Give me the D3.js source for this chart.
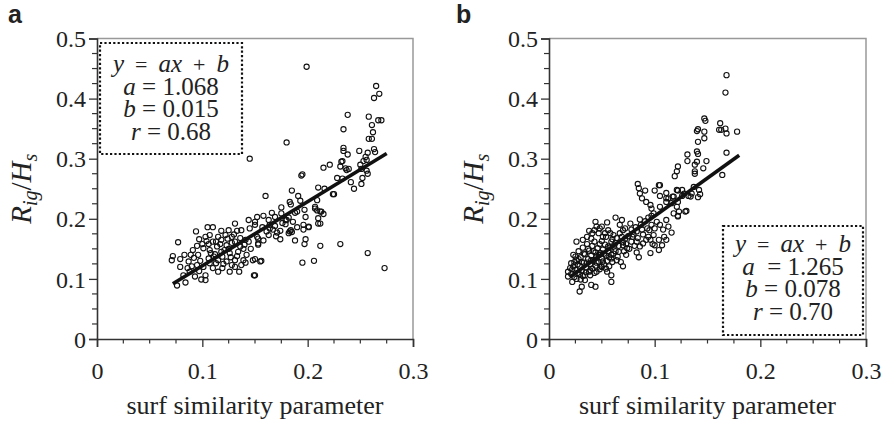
<!DOCTYPE html>
<html>
<head>
<meta charset="utf-8">
<script src="https://cdn.jsdelivr.net/npm/d3@7"></script>
<style>
  body { margin: 0; background: #fff; }
  svg text { fill: #222; }
</style>
</head>
<body>
<svg id="chart" width="885" height="426" font-family="Liberation Serif, Times New Roman, serif"></svg>
<script>
// axis ticks
const xTicks = [0, 0.1, 0.2, 0.3];
const yTicks = [0, 0.1, 0.2, 0.3, 0.4, 0.5];
const xTickLabels = ["0", "0.1", "0.2", "0.3"];
const yTickLabels = ["0", "0.1", "0.2", "0.3", "0.4", "0.5"];

// panel a : surf similarity parameter vs Rig/Hs
const ptsA = [
  [0.199,0.453],[0.145,0.300],[0.180,0.327],[0.265,0.421],[0.268,0.408],[0.263,0.401],[0.238,0.373],[0.258,0.370],
  [0.267,0.364],[0.270,0.364],[0.261,0.356],[0.234,0.349],[0.262,0.344],[0.261,0.333],[0.258,0.333],[0.234,0.318],
  [0.234,0.313],[0.263,0.316],[0.264,0.311],[0.249,0.313],[0.238,0.307],[0.257,0.310],[0.233,0.296],[0.255,0.303],
  [0.253,0.296],[0.231,0.287],[0.236,0.284],[0.239,0.283],[0.250,0.290],[0.256,0.298],[0.251,0.283],[0.256,0.280],
  [0.257,0.275],[0.228,0.268],[0.233,0.267],[0.241,0.261],[0.252,0.268],[0.251,0.258],[0.244,0.250],[0.225,0.241],
  [0.231,0.158],[0.257,0.143],[0.273,0.118],[0.221,0.290],[0.215,0.285],[0.195,0.274],[0.194,0.272],[0.237,0.281],
  [0.232,0.295],
  [0.160,0.238],[0.185,0.247],[0.210,0.252],[0.216,0.250],[0.224,0.241],[0.191,0.238],[0.193,0.230],[0.183,0.228],
  [0.184,0.224],[0.209,0.231],[0.175,0.219],[0.166,0.210],[0.175,0.209],[0.188,0.210],[0.197,0.215],[0.207,0.217],
  [0.209,0.214],[0.213,0.212],[0.215,0.208],[0.158,0.205],[0.152,0.203],[0.169,0.203],[0.182,0.202],[0.198,0.203],
  [0.210,0.201],[0.150,0.195],[0.163,0.198],[0.179,0.198],[0.186,0.195],[0.210,0.192],[0.164,0.190],[0.179,0.191],
  [0.196,0.190],[0.201,0.187],[0.167,0.182],[0.174,0.180],[0.184,0.181],[0.196,0.182],[0.212,0.192],[0.163,0.173],
  [0.170,0.171],[0.182,0.176],[0.185,0.178],[0.153,0.167],[0.174,0.166],[0.188,0.164],[0.198,0.166],[0.153,0.157],
  [0.197,0.158],[0.212,0.155],[0.150,0.133],[0.156,0.130],[0.195,0.127],[0.206,0.130],[0.150,0.106],[0.164,0.184],
  [0.169,0.188],[0.171,0.177],[0.180,0.198],[0.190,0.212],[0.207,0.220],[0.212,0.212],[0.183,0.179],[0.201,0.186],
  [0.144,0.198],[0.131,0.192],[0.105,0.186],[0.110,0.186],[0.094,0.179],[0.118,0.180],[0.125,0.181],[0.133,0.180],
  [0.122,0.173],[0.128,0.170],[0.141,0.165],[0.152,0.170],[0.077,0.161],[0.095,0.155],[0.100,0.158],[0.106,0.158],
  [0.110,0.162],[0.118,0.165],[0.101,0.151],[0.107,0.148],[0.114,0.154],[0.123,0.156],[0.131,0.162],[0.136,0.154],
  [0.144,0.162],[0.153,0.159],[0.112,0.141],[0.118,0.145],[0.126,0.143],[0.134,0.145],[0.142,0.140],[0.072,0.138],
  [0.071,0.131],[0.079,0.133],[0.087,0.129],[0.098,0.130],[0.106,0.134],[0.115,0.131],[0.123,0.129],[0.131,0.131],
  [0.139,0.131],[0.148,0.131],[0.155,0.129],[0.079,0.120],[0.090,0.121],[0.101,0.120],[0.107,0.126],[0.120,0.125],
  [0.128,0.123],[0.137,0.123],[0.082,0.106],[0.088,0.112],[0.093,0.104],[0.103,0.106],[0.115,0.112],[0.126,0.112],
  [0.131,0.120],[0.149,0.106],[0.084,0.094],[0.076,0.089],[0.103,0.098],[0.150,0.190],[0.145,0.184],[0.137,0.181],
  [0.107,0.173],[0.103,0.170],[0.115,0.170],[0.096,0.140],[0.091,0.148],[0.086,0.118],[0.097,0.113],[0.110,0.118],
  [0.119,0.137],[0.125,0.150],[0.139,0.150],[0.113,0.162],[0.128,0.160],[0.099,0.099],[0.092,0.135],[0.083,0.140],
  [0.117,0.158],[0.121,0.148],[0.127,0.136],[0.133,0.138],[0.140,0.157],[0.146,0.150],[0.108,0.143],[0.113,0.126],
  [0.119,0.118],[0.124,0.167],[0.130,0.174],[0.136,0.168],[0.104,0.163],[0.097,0.166],[0.111,0.137],[0.135,0.112],
  [0.141,0.127],[0.095,0.123],[0.089,0.140],[0.157,0.186],[0.161,0.179],[0.158,0.164],[0.176,0.193],[0.190,0.186]
];

// panel b
const ptsB = [
  [0.168,0.439],[0.167,0.410],[0.147,0.367],[0.148,0.363],[0.140,0.346],[0.141,0.349],[0.147,0.345],[0.162,0.359],
  [0.161,0.348],[0.163,0.348],[0.167,0.350],[0.168,0.342],[0.178,0.345],[0.147,0.334],[0.141,0.328],[0.140,0.312],
  [0.141,0.308],[0.168,0.310],[0.131,0.307],[0.131,0.296],[0.140,0.295],[0.149,0.296],[0.138,0.290],[0.146,0.284],
  [0.122,0.287],[0.121,0.279],[0.119,0.271],[0.138,0.279],[0.138,0.275],[0.164,0.273],
  [0.105,0.256],[0.100,0.247],[0.105,0.238],[0.111,0.243],[0.111,0.234],[0.111,0.228],[0.122,0.247],[0.126,0.248],
  [0.128,0.242],[0.135,0.242],[0.137,0.253],[0.142,0.248],[0.143,0.241],[0.141,0.236],[0.118,0.237],[0.126,0.238],
  [0.132,0.238],[0.116,0.226],[0.121,0.220],[0.122,0.204],[0.118,0.209],[0.129,0.212],[0.105,0.220],[0.097,0.217],
  [0.084,0.258],[0.085,0.251],[0.086,0.242],[0.088,0.234],[0.091,0.247],[0.092,0.228],[0.096,0.223],[0.104,0.256],
  [0.113,0.234],[0.117,0.237],[0.121,0.248],[0.134,0.237],[0.122,0.228],[0.123,0.212],[0.130,0.213],[0.122,0.205],
  [0.111,0.198],[0.099,0.209],[0.094,0.202],[0.102,0.195],[0.097,0.190],[0.100,0.184],[0.095,0.181],[0.099,0.173],
  [0.096,0.165],[0.100,0.156],[0.096,0.143],[0.105,0.190],[0.108,0.182],[0.113,0.187],[0.116,0.177],[0.109,0.170],
  [0.111,0.165],[0.104,0.165],[0.107,0.156],[0.104,0.148],
  [0.086,0.199],[0.088,0.182],[0.083,0.179],[0.078,0.182],[0.079,0.170],[0.083,0.162],[0.086,0.154],[0.083,0.144],
  [0.085,0.136],[0.089,0.159],[0.092,0.165],
  [0.063,0.202],[0.069,0.198],[0.067,0.190],[0.070,0.181],[0.069,0.170],[0.072,0.167],[0.070,0.156],[0.074,0.151],
  [0.073,0.140],[0.066,0.145],[0.059,0.162],[0.061,0.173],[0.056,0.181],[0.054,0.170],[0.064,0.131],[0.070,0.121],
  [0.059,0.134],[0.056,0.154],
  [0.059,0.106],[0.055,0.112],[0.050,0.120],[0.059,0.095],[0.045,0.112],[0.044,0.087],[0.040,0.090],[0.034,0.098],
  [0.031,0.087],[0.029,0.079],[0.022,0.095],[0.018,0.104],[0.039,0.106],[0.051,0.129],[0.048,0.140],
  [0.026,0.162],[0.032,0.165],[0.044,0.195],[0.045,0.187],[0.048,0.184],[0.047,0.176],[0.040,0.167],[0.036,0.170],
  [0.051,0.170],[0.023,0.140],[0.021,0.126],[0.020,0.118],[0.018,0.112],[0.025,0.115],
  [0.021,0.108],[0.023,0.121],[0.024,0.103],[0.026,0.131],[0.027,0.110],[0.028,0.146],[0.029,0.122],[0.030,0.099],
  [0.030,0.136],[0.031,0.114],[0.032,0.152],[0.033,0.127],[0.034,0.106],[0.034,0.141],[0.035,0.119],[0.036,0.158],
  [0.037,0.133],[0.038,0.112],[0.038,0.147],[0.039,0.125],[0.040,0.139],[0.041,0.155],[0.041,0.117],[0.042,0.131],
  [0.043,0.162],[0.044,0.144],[0.044,0.122],[0.045,0.137],[0.046,0.151],[0.047,0.128],[0.048,0.158],[0.048,0.116],
  [0.049,0.143],[0.050,0.134],[0.051,0.149],[0.052,0.124],[0.053,0.157],[0.054,0.139],[0.055,0.130],[0.056,0.146],
  [0.057,0.121],[0.058,0.152],[0.059,0.140],[0.060,0.128],[0.062,0.157],[0.063,0.146],[0.064,0.168],[0.065,0.137],
  [0.066,0.155],[0.067,0.176],[0.068,0.128],[0.070,0.161],[0.071,0.146],[0.072,0.184],[0.073,0.158],[0.075,0.171],
  [0.076,0.150],[0.077,0.192],[0.078,0.162],[0.080,0.174],[0.081,0.155],[0.082,0.186],[0.084,0.168],[0.087,0.190],
  [0.089,0.174],[0.091,0.196],[0.093,0.184],[0.094,0.170],[0.097,0.205],[0.098,0.158],
  [0.022,0.116],[0.024,0.128],[0.025,0.137],[0.026,0.100],[0.027,0.124],[0.028,0.133],[0.029,0.108],[0.031,0.128],
  [0.032,0.105],[0.033,0.142],[0.035,0.111],[0.036,0.127],[0.037,0.150],[0.039,0.114],[0.040,0.131],[0.042,0.146],
  [0.043,0.110],[0.045,0.127],[0.047,0.140],[0.049,0.121],[0.050,0.163],[0.052,0.142],[0.054,0.117],[0.057,0.136],
  [0.061,0.142],[0.060,0.166],[0.058,0.176],[0.053,0.176],[0.041,0.176],[0.038,0.180],[0.055,0.194],[0.050,0.187],
  [0.043,0.181]
];

// regression y = a x + b
const fitA = [1.068, 0.015];
const fitB = [1.265, 0.078];
const fitRangeA = [0.072, 0.275];
const fitRangeB = [0.02, 0.18];
const statsA = ["a = 1.068", "b = 0.015", "r = 0.68"];
const statsB = ["a  = 1.265", "b = 0.078", "r = 0.70"];

const svg = d3.select("#chart");

function drawPanel(p) {
  const x = d3.scaleLinear().domain([0, 0.3]).range([p.left, p.right]);
  const y = d3.scaleLinear().domain([0, 0.5]).range([p.bottom, p.top]);
  const g = svg.append("g");

  // top and right frame (grey)
  g.append("path")
    .attr("d", `M${x(0)},${y(0.5)}H${x(0.3)}V${y(0)}`)
    .attr("fill", "none").attr("stroke", "#999").attr("stroke-width", 1.5);

  // minor ticks every 0.025
  const xMinor = d3.range(0, 0.3001, 0.025).filter(v => Math.abs(v * 10 - Math.round(v * 10)) > 1e-6);
  const yMinor = d3.range(0, 0.5001, 0.025).filter(v => Math.abs(v * 10 - Math.round(v * 10)) > 1e-6);

  const xAxis = d3.axisBottom(x).tickValues(xTicks).tickSize(8).tickFormat((d, i) => xTickLabels[i]);
  const yAxis = d3.axisLeft(y).tickValues(yTicks).tickSize(8).tickFormat((d, i) => yTickLabels[i]);

  const gx = g.append("g").attr("transform", `translate(0,${p.bottom})`).call(xAxis);
  const gy = g.append("g").attr("transform", `translate(${p.left},0)`).call(yAxis);
  [gx, gy].forEach(a => {
    a.attr("font-family", null).attr("font-size", null);
    a.select(".domain").attr("stroke", "#333").attr("stroke-width", 1.6);
    a.selectAll(".tick line").attr("stroke", "#333").attr("stroke-width", 1.3);
    a.selectAll(".tick text").attr("font-size", 24).attr("fill", "#222");
  });
  gx.selectAll(".tick text").attr("dy", null).attr("y", 40);
  gy.selectAll(".tick text").attr("x", -11).attr("dy", "0.34em");

  g.selectAll(".xminor").data(xMinor).join("line")
    .attr("x1", d => x(d)).attr("x2", d => x(d))
    .attr("y1", p.bottom).attr("y2", p.bottom + 4.5)
    .attr("stroke", "#333").attr("stroke-width", 1.2);
  g.selectAll(".yminor").data(yMinor).join("line")
    .attr("y1", d => y(d)).attr("y2", d => y(d))
    .attr("x1", p.left).attr("x2", p.left - 5)
    .attr("stroke", "#333").attr("stroke-width", 1.2);

  // points
  g.append("g").selectAll("circle").data(p.points).join("circle")
    .attr("cx", d => x(d[0])).attr("cy", d => y(d[1]))
    .attr("r", 2.6).attr("fill", "none").attr("stroke", "#111").attr("stroke-width", 1.1);

  // fitted line
  const line = d3.line().x(d => x(d)).y(d => y(p.fit[0] * d + p.fit[1]));
  g.append("path").datum(p.fitRange).attr("d", line)
    .attr("stroke", "#111").attr("stroke-width", 3.6).attr("fill", "none");

  // equation box
  const b = p.box;
  g.append("rect").attr("x", b.x).attr("y", b.y).attr("width", b.w).attr("height", b.h)
    .attr("fill", "#fff").attr("stroke", "#111").attr("stroke-width", 2.2)
    .attr("stroke-dasharray", "2.2,2.2");
  const cx = b.x + b.w / 2;
  const t0 = g.append("text").attr("x", cx).attr("y", b.y + b.first)
    .attr("text-anchor", "middle").attr("font-size", 25).style("white-space", "pre");
  [["y", true], ["  =  ", false], ["ax", true], ["  +  ", false], ["b", true]].forEach(([s, it]) =>
    t0.append("tspan").text(s).attr("font-style", it ? "italic" : "normal")
      .attr("font-size", it ? 25 : 22));
  p.stats.forEach((s, i) => {
    const t = g.append("text").attr("x", cx).attr("y", b.y + b.first + (i + 1) * 22.5)
      .attr("text-anchor", "middle").attr("font-size", 25).style("white-space", "pre");
    t.append("tspan").attr("font-style", "italic").text(s[0]);
    t.append("tspan").text(s.slice(1));
  });

  // axis titles
  g.append("text").attr("x", (p.left + p.right) / 2).attr("y", 414)
    .attr("text-anchor", "middle").attr("font-size", 26).text("surf similarity parameter");
  const yl = g.append("text").attr("transform", `translate(${p.left - 66},${(p.top + p.bottom) / 2}) rotate(-90)`)
    .attr("text-anchor", "middle").attr("font-size", 29).attr("font-style", "italic");
  yl.append("tspan").text("R");
  yl.append("tspan").text("ig").attr("font-size", 20).attr("dy", 6);
  yl.append("tspan").text("/").attr("dy", -6).attr("font-style", "normal");
  yl.append("tspan").text("H");
  yl.append("tspan").text("s").attr("font-size", 20).attr("dy", 6);

  // panel letter
  svg.append("text").attr("x", p.letterX).attr("y", 23)
    .style("font-family", "'Liberation Sans', Arial, sans-serif").attr("font-weight", "bold")
    .attr("font-size", 25).attr("fill", "#111").text(p.letter);
}

drawPanel({
  left: 97, right: 413, top: 38.5, bottom: 339,
  points: ptsA, fit: fitA, fitRange: fitRangeA, stats: statsA,
  box: { x: 100, y: 43, w: 142, h: 111, first: 29 },
  letter: "a", letterX: 8
});
drawPanel({
  left: 549, right: 866, top: 38.5, bottom: 339,
  points: ptsB, fit: fitB, fitRange: fitRangeB, stats: statsB,
  box: { x: 723, y: 226, w: 140, h: 109, first: 26 },
  letter: "b", letterX: 456
});
</script>
</body>
</html>
